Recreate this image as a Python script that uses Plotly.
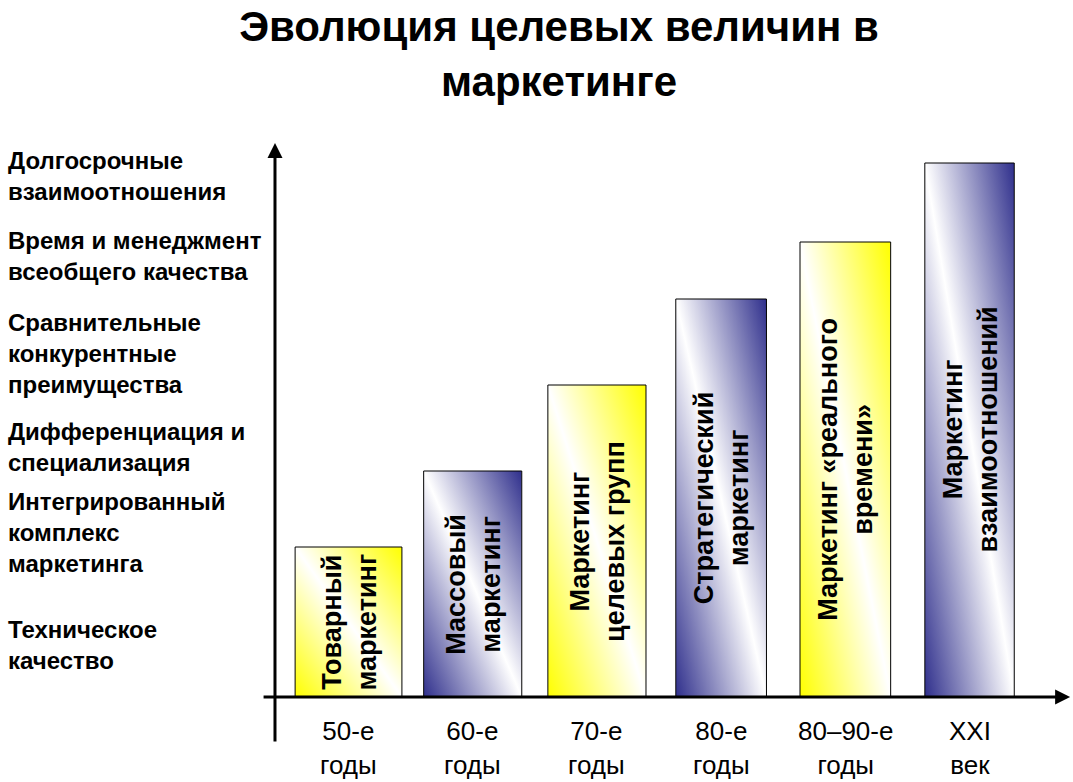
import base64
import plotly.graph_objects as go

# ---------------- data ----------------
periods = ["50-е<br>годы", "60-е<br>годы", "70-е<br>годы", "80-е<br>годы", "80–90-е<br>годы", "XXI<br>век"]
concepts = [
    "Товарный<br>маркетинг",
    "Массовый<br>маркетинг",
    "Маркетинг<br>целевых групп",
    "Стратегический<br>маркетинг",
    "Маркетинг «реального<br>времени»",
    "Маркетинг<br>взаимоотношений",
]
target_level = [1.50, 2.26, 3.12, 3.98, 4.55, 5.34]

level_labels = [
    "Техническое<br>качество",
    "Интегрированный<br>комплекс<br>маркетинга",
    "Дифференциация и<br>специализация",
    "Сравнительные<br>конкурентные<br>преимущества",
    "Время и менеджмент<br>всеобщего качества",
    "Долгосрочные<br>взаимоотношения",
]
level_values = [0.52, 1.65, 2.50, 3.44, 4.41, 5.21]

title_text = "Эволюция целевых величин в<br>маркетинге"

# ---------------- style ----------------
FONT = "Liberation Sans, Arial, sans-serif"
YELLOW = "#FFFF00"
NAVY = "#2F2F8C"
bar_colors = [YELLOW, NAVY, YELLOW, NAVY, YELLOW, NAVY]
bar_widths = [0.86, 0.79, 0.79, 0.73, 0.73, 0.72]

X_RANGE = [-2.806, 5.833]
Y_RANGE = [-0.85, 6.97]
AXIS_X = -0.592        # position of vertical axis
X_AXIS_START = -0.696
X_AXIS_END = 5.81
Y_AXIS_BOTTOM = -0.46
Y_AXIS_TOP = 5.54


def gradient_uri(color):
    svg = (
        '<svg xmlns="http://www.w3.org/2000/svg" width="100" height="100" '
        'viewBox="0 0 100 100" preserveAspectRatio="none">'
        '<defs><linearGradient id="g" x1="0" y1="1" x2="1" y2="0">'
        f'<stop offset="0" stop-color="{color}"/>'
        '<stop offset="0.5" stop-color="#ffffff"/>'
        f'<stop offset="1" stop-color="{color}"/>'
        '</linearGradient></defs>'
        '<rect x="0" y="0" width="100" height="100" fill="url(#g)"/></svg>'
    )
    return "data:image/svg+xml;base64," + base64.b64encode(svg.encode("utf-8")).decode("ascii")


xs = list(range(len(periods)))

fig = go.Figure()
fig.add_trace(
    go.Bar(
        x=xs,
        y=target_level,
        width=bar_widths,
        marker=dict(color="rgba(0,0,0,0)", line=dict(color="black", width=1)),
        hoverinfo="skip",
        showlegend=False,
    )
)

images = []
for i, (v, c, w) in enumerate(zip(target_level, bar_colors, bar_widths)):
    images.append(
        dict(
            source=gradient_uri(c),
            xref="x", yref="y",
            x=i - w / 2, y=v,
            sizex=w, sizey=v,
            xanchor="left", yanchor="top",
            sizing="stretch",
            layer="below",
        )
    )

annotations = []
# text inside bars
for i, (v, t) in enumerate(zip(target_level, concepts)):
    annotations.append(
        dict(
            x=i, y=v / 2, xref="x", yref="y",
            text=t, showarrow=False, textangle=-90,
            font=dict(family=FONT, size=27, color="black", weight="bold"),
            align="center",
        )
    )
# period labels under axis
for i, p in enumerate(periods):
    annotations.append(
        dict(
            x=i, y=-0.51, xref="x", yref="y",
            text=p, showarrow=False, yanchor="middle",
            font=dict(family=FONT, size=26, color="black"),
            align="center",
        )
    )
# level labels at the left
for lab, lv in zip(level_labels, level_values):
    annotations.append(
        dict(
            x=0.0056, y=lv, xref="paper", yref="y",
            text=lab, showarrow=False, xanchor="left", yanchor="middle",
            align="left",
            font=dict(family=FONT, size=24, color="black", weight="bold"),
        )
    )
# axes as arrows
annotations.append(
    dict(
        x=X_AXIS_END, y=0, ax=X_AXIS_START, ay=0,
        xref="x", yref="y", axref="x", ayref="y",
        text="", showarrow=True, arrowhead=2, arrowsize=1, arrowwidth=3,
        arrowcolor="black", standoff=0,
    )
)
annotations.append(
    dict(
        x=AXIS_X, y=Y_AXIS_TOP, ax=AXIS_X, ay=Y_AXIS_BOTTOM,
        xref="x", yref="y", axref="x", ayref="y",
        text="", showarrow=True, arrowhead=2, arrowsize=1, arrowwidth=3,
        arrowcolor="black", standoff=0,
    )
)

fig.update_layout(
    width=1073, height=782,
    margin=dict(l=0, r=0, t=0, b=0),
    paper_bgcolor="white",
    plot_bgcolor="rgba(0,0,0,0)",
    showlegend=False,
    title=dict(
        text=title_text,
        x=0.521, xanchor="center",
        y=1 - 41 / 782, yanchor="middle",
        font=dict(family=FONT, size=42, color="black", weight="bold"),
    ),
    xaxis=dict(range=X_RANGE, visible=False, fixedrange=True),
    yaxis=dict(range=Y_RANGE, visible=False, fixedrange=True),
    images=images,
    annotations=annotations,
)

fig.write_html("out.html")
